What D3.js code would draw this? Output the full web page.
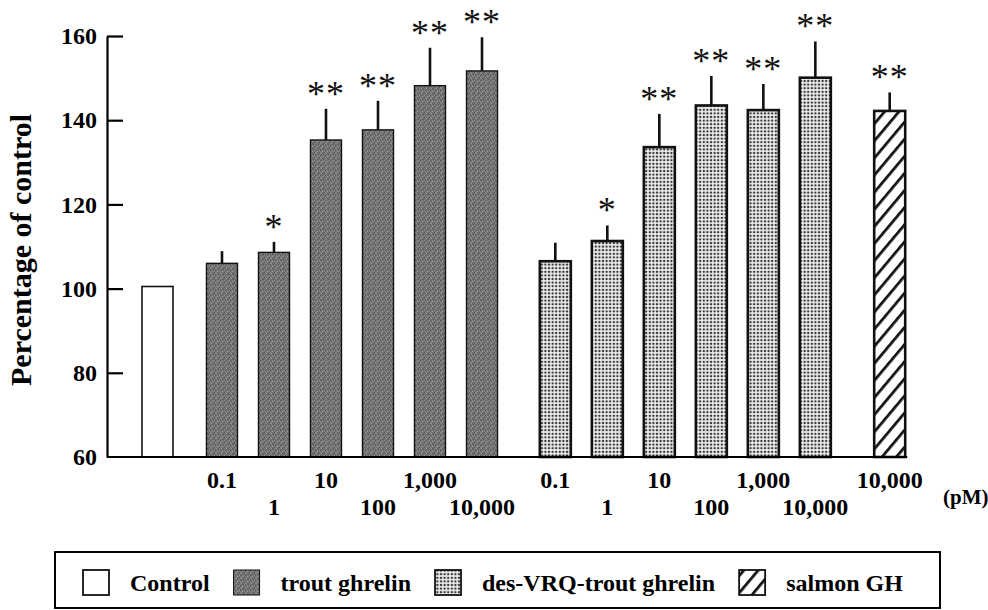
<!DOCTYPE html>
<html>
<head>
<meta charset="utf-8">
<script src="https://cdn.jsdelivr.net/npm/d3@7"></script>
<style>
  body { margin: 0; background: #fff; }
  svg { display: block; }
  text { font-family: "Liberation Serif", "Times New Roman", serif; }
</style>
</head>
<body>
<div id="chart"></div>
<script>
// data
var groups = ["Control", "trout ghrelin", "des-VRQ-trout ghrelin", "salmon GH"];
var barGroup = [0, 1, 1, 1, 1, 1, 1, 2, 2, 2, 2, 2, 2, 3];
var doseLabels = ["", "0.1", "1", "10", "100", "1,000", "10,000",
                  "0.1", "1", "10", "100", "1,000", "10,000", "10,000"];
var means = [100.5, 106, 108.6, 135.3, 137.7, 148.2, 151.7,
             106.5, 111.3, 133.6, 143.5, 142.4, 150.1, 142.2];
var errs = [0, 2.9, 2.5, 7.4, 6.9, 9.0, 8.0,
            4.4, 3.7, 7.9, 7.0, 6.2, 8.6, 4.4];
var stars = ["", "", "*", "**", "**", "**", "**",
             "", "*", "**", "**", "**", "**", "**"];
var yTicks = [60, 80, 100, 120, 140, 160];

var width = 988, height = 610;
var groupGap = [0, 0.24, 0.65, 1.08];   // extra space between groups, in bar steps
var barW = 31;

var svg = d3.select("#chart").append("svg")
    .attr("width", width)
    .attr("height", height);

var defs = svg.append("defs");

// trout ghrelin: mottled dark grey
var pTrout = defs.append("pattern")
    .attr("id", "trout").attr("patternUnits", "userSpaceOnUse")
    .attr("width", 5).attr("height", 5);
pTrout.append("rect").attr("width", 5).attr("height", 5).attr("fill", "#737373");
[[0, 0, "#4e4e4e"], [2, 1, "#a0a0a0"], [4, 2, "#505050"], [1, 3, "#9a9a9a"],
 [3, 4, "#555"], [2, 3, "#5a5a5a"], [4, 0, "#999"], [0, 2, "#8e8e8e"]].forEach(function (p) {
    pTrout.append("rect").attr("x", p[0]).attr("y", p[1])
        .attr("width", 1).attr("height", 1).attr("fill", p[2]);
});

// des-VRQ: fine dots
var pDes = defs.append("pattern")
    .attr("id", "des").attr("patternUnits", "userSpaceOnUse")
    .attr("width", 3.6).attr("height", 3.6);
pDes.append("rect").attr("width", 3.6).attr("height", 3.6).attr("fill", "#eeeeee");
pDes.append("circle").attr("cx", 1.8).attr("cy", 1.8).attr("r", 1.2).attr("fill", "#333");

// salmon GH: diagonal stripes
var pSal = defs.append("pattern")
    .attr("id", "salmon").attr("patternUnits", "userSpaceOnUse")
    .attr("width", 11).attr("height", 11)
    .attr("patternTransform", "rotate(40)");
pSal.append("rect").attr("width", 11).attr("height", 11).attr("fill", "#fff");
pSal.append("line").attr("x1", 0).attr("y1", 0).attr("x2", 0).attr("y2", 11)
    .attr("stroke", "#111").attr("stroke-width", 5.5);

var fills = ["#fff", "url(#trout)", "url(#des)", "url(#salmon)"];
var strokes = [1.6, 1.4, 2.6, 2.6];

var x = d3.scaleLinear().domain([0, 14.08]).range([157.5, 889.7]);
var y = d3.scaleLinear().domain([60, 160]).range([457, 36]);

function slot(i) { return i + groupGap[barGroup[i]]; }

var bars = means.map(function (m, i) {
    return {i: i, mean: m, err: errs[i], star: stars[i], group: barGroup[i], dose: doseLabels[i]};
});

// y axis with inward ticks
var yAxis = d3.axisLeft(y).tickValues(yTicks).tickSizeInner(-16).tickSizeOuter(0).tickPadding(10);
var gy = svg.append("g").attr("transform", "translate(107,0)").call(yAxis);
gy.select(".domain").attr("stroke", "#000").attr("stroke-width", 2.2);
gy.selectAll(".tick line").attr("stroke", "#000").attr("stroke-width", 2.2);
gy.selectAll(".tick").filter(function (d) { return d === 60; }).select("line").remove();
gy.selectAll(".tick text")
    .attr("font-family", "Liberation Serif, serif")
    .attr("font-size", 24).attr("font-weight", "bold").attr("fill", "#000");

// bars
svg.selectAll("rect.bar").data(bars).enter().append("rect")
    .attr("class", "bar")
    .attr("x", function (d) { return x(slot(d.i)) - barW / 2; })
    .attr("width", barW)
    .attr("y", function (d) { return y(d.mean); })
    .attr("height", function (d) { return y(60) - y(d.mean); })
    .attr("fill", function (d) { return fills[d.group]; })
    .attr("stroke", "#111")
    .attr("stroke-width", function (d) { return strokes[d.group]; });

// baseline
svg.append("line")
    .attr("x1", 107).attr("x2", x(slot(13)) + barW / 2 + 2)
    .attr("y1", y(60)).attr("y2", y(60))
    .attr("stroke", "#000").attr("stroke-width", 2.2);

// error bars (upper only)
svg.selectAll("line.err").data(bars.filter(function (d) { return d.err > 0; })).enter().append("line")
    .attr("class", "err")
    .attr("x1", function (d) { return x(slot(d.i)); })
    .attr("x2", function (d) { return x(slot(d.i)); })
    .attr("y1", function (d) { return y(d.mean); })
    .attr("y2", function (d) { return y(d.mean + d.err); })
    .attr("stroke", "#111").attr("stroke-width", 2.6);

// significance stars
svg.selectAll("text.star").data(bars.filter(function (d) { return d.star; })).enter().append("text")
    .attr("class", "star")
    .attr("x", function (d) { return x(slot(d.i)); })
    .attr("y", function (d) { return y(d.mean + d.err) - 3; })
    .attr("text-anchor", "middle")
    .attr("font-size", 36)
    .attr("letter-spacing", 1)
    .attr("fill", "#111")
    .text(function (d) { return d.star; });

// dose labels, staggered in two rows
svg.selectAll("text.dose").data(bars.filter(function (d) { return d.dose; })).enter().append("text")
    .attr("class", "dose")
    .attr("x", function (d) { return x(slot(d.i)); })
    .attr("y", function (d) {
        var k = d.group === 3 ? 0 : (d.i - 1) % 6;
        return k % 2 === 0 ? 488 : 515;
    })
    .attr("text-anchor", "middle")
    .attr("font-size", 24).attr("font-weight", "bold")
    .text(function (d) { return d.dose; });

svg.append("text")
    .attr("x", 943).attr("y", 504)
    .attr("font-size", 21).attr("font-weight", "bold")
    .text("(pM)");

// y title
svg.append("text")
    .attr("transform", "translate(31,250) rotate(-90)")
    .attr("text-anchor", "middle")
    .attr("font-size", 29).attr("font-weight", "bold")
    .attr("textLength", 272).attr("lengthAdjust", "spacingAndGlyphs")
    .text("Percentage of control");

// legend
svg.append("rect")
    .attr("x", 55).attr("y", 552).attr("width", 885).attr("height", 56)
    .attr("fill", "none").attr("stroke", "#000").attr("stroke-width", 2);

var lx = 83;
groups.forEach(function (g, k) {
    svg.append("rect")
        .attr("x", lx).attr("y", 570).attr("width", 26).attr("height", 25)
        .attr("fill", fills[k]).attr("stroke", "#111").attr("stroke-width", k === 1 ? 1 : 1.8);
    var t = svg.append("text")
        .attr("x", lx + 47).attr("y", 591)
        .attr("font-size", 24).attr("font-weight", "bold")
        .text(g);
    lx = lx + 47 + t.node().getComputedTextLength() + 24;
});
</script>
</body>
</html>
